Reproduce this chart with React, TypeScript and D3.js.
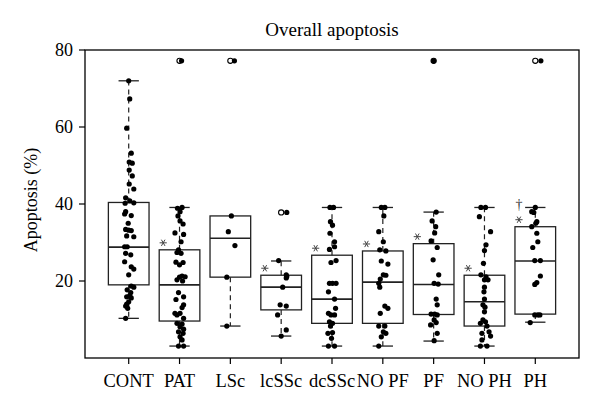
import React from 'react'
import * as d3 from 'd3'

const categories = ['CONT', 'PAT', 'LSc', 'lcSSc', 'dcSSc', 'NO PF', 'PF', 'NO PH', 'PH']
const whiskerLow = [10.3, 3.1, 8.3, 5.7, 3.1, 3.1, 4.4, 3.1, 9.3]
const lowerQuartile = [19.0, 9.6, 21.0, 12.5, 9.0, 9.0, 11.3, 8.3, 11.4]
const medians = [28.8, 19.0, 31.1, 18.4, 15.3, 19.7, 19.1, 14.6, 25.2]
const upperQuartile = [40.4, 28.1, 36.9, 21.5, 26.7, 27.8, 29.7, 21.5, 34.1]
const whiskerHigh = [72.0, 39.1, 36.9, 25.2, 39.1, 39.1, 37.9, 39.1, 39.1]
const outliers = [[], [77.2], [77.2], [37.8], [], [], [77.2], [], [77.2]]
const starred = [false, true, false, true, true, true, true, true, true]
const daggered = [false, false, false, false, false, false, false, false, true]
const yTicks = [20, 40, 60, 80]

// [value, jitter in category units]
const contPoints = [
  [72.0, 0], [67.3, 0.02], [59.7, -0.04], [53.2, 0.05], [50.9, 0.01], [50.6, 0.07],
  [48.8, 0.01], [47.3, 0.07], [45.2, 0.01], [43.9, 0.1], [41.6, -0.06], [40.8, 0.02],
  [40.3, 0.1], [40.2, -0.07], [38.0, -0.06], [37.4, -0.08], [37.0, 0.05], [35.0, -0.01],
  [33.4, -0.06], [33.2, 0], [33.1, 0.05], [31.7, -0.04], [31.5, 0.1], [28.9, -0.08],
  [28.9, -0.03], [27.2, -0.06], [26.8, 0.04], [25.0, -0.08], [23.7, 0.05], [23.1, 0.1],
  [21.6, 0], [18.7, 0.05], [18.4, 0.1], [17.7, -0.03], [17.0, 0.04], [16.2, 0.02],
  [15.9, -0.04], [15.6, 0.05], [14.6, 0], [14.0, -0.04], [13.5, -0.06], [12.9, -0.02],
  [10.3, -0.06],
]
const patPoints = [
  [77.2, 0.04], [38.9, -0.04], [39.1, 0.05], [38.0, 0.01], [36.9, -0.03], [35.6, 0.01],
  [34.8, 0.07], [32.5, -0.09], [32.1, 0.08], [30.2, 0.03], [28.1, -0.02], [27.4, -0.05],
  [27.2, 0.03], [24.9, -0.07], [24.8, 0.07], [24.2, 0], [21.3, 0.05], [21.0, 0],
  [21.1, 0.11], [20.3, -0.05], [20.0, 0.06], [17.0, -0.02], [15.2, -0.07], [15.9, 0.08],
  [13.8, 0.08], [13.1, 0.05], [11.6, -0.09], [11.6, 0.01], [11.2, -0.05], [10.3, 0.08],
  [9.0, -0.05], [8.8, 0.05], [8.1, 0.01], [7.5, 0.08], [6.8, -0.02], [6.4, 0.07],
  [5.5, 0.01], [4.7, 0.05], [3.1, -0.02], [3.1, 0.08],
]
const lscPoints = [[77.2, 0.08], [36.9, 0.02], [32.8, -0.04], [29.2, 0.09], [21.0, -0.07], [8.3, -0.07]]
const lcsscPoints = [
  [37.8, 0.11], [25.3, -0.05], [21.6, 0.1], [21.2, 0.11], [20.8, 0.1], [18.4, 0.03],
  [13.8, -0.02], [13.5, 0.1], [11.2, -0.07], [7.3, 0.1], [5.7, 0],
]
const dcsscPoints = [
  [39.1, -0.04], [39.1, 0.03], [35.4, -0.03], [34.5, 0.01], [32.4, -0.04], [30.2, 0.05],
  [28.9, 0.05], [28.2, -0.05], [25.3, 0.08], [24.8, -0.02], [19.4, -0.05], [19.4, 0.01],
  [19.4, 0.08], [17.2, -0.07], [15.3, 0.05], [12.9, 0.07], [11.6, -0.07], [11.2, -0.02],
  [11.2, 0.05], [9.4, -0.05], [9.0, 0.01], [8.3, -0.03], [6.4, -0.08], [6.6, 0.01],
  [5.1, -0.01], [3.1, -0.07], [3.1, 0.05],
]
const nopfPoints = [
  [39.1, -0.03], [39.1, 0.04], [36.9, 0.02], [32.8, -0.08], [30.2, 0.01], [28.1, -0.06],
  [27.8, 0.06], [25.2, -0.03], [24.4, 0.1], [21.6, 0.01], [21.5, 0.06], [20.5, -0.05],
  [19.4, -0.08], [18.4, -0.06], [13.5, 0.04], [12.9, 0.1], [11.6, -0.05], [8.3, -0.08],
  [8.3, 0.04], [6.8, 0.01], [6.4, 0.06], [5.5, -0.03], [3.1, -0.08],
]
const pfPoints = [
  [77.2, 0], [37.9, 0.05], [35.6, -0.03], [34.1, 0.04], [32.5, 0.02], [30.4, -0.05],
  [28.7, 0.07], [25.5, -0.01], [21.6, 0.1], [19.4, 0.01], [19.2, 0.09], [15.3, 0.05],
  [13.8, 0.07], [11.4, -0.05], [11.4, 0.02], [11.2, 0.07], [9.9, 0.01], [8.6, -0.06],
  [9.2, 0.05], [6.4, 0.07], [4.5, 0.01],
]
const nophPoints = [
  [39.1, -0.07], [39.1, 0.02], [36.7, -0.1], [32.8, 0.12], [29.4, 0.03], [27.9, 0],
  [24.6, -0.02], [21.6, -0.07], [21.1, 0.03], [20.3, 0], [20.3, 0.07], [18.4, 0],
  [17.2, -0.01], [15.3, 0], [13.8, -0.03], [13.2, 0.01], [12.0, 0], [9.9, -0.03],
  [9.4, 0.02], [9.0, -0.08], [8.3, 0.05], [6.4, -0.05], [6.8, 0.09], [5.7, 0.12],
  [4.7, -0.05], [3.1, -0.08], [3.1, 0.05],
]
const phPoints = [
  [77.2, 0.11], [39.1, 0], [38.0, -0.07], [37.8, -0.03], [35.4, 0.03], [35.0, 0.01],
  [34.1, -0.07], [32.4, 0.03], [30.2, 0.05], [28.7, -0.05], [25.3, -0.01], [25.3, 0.1],
  [21.3, 0.1], [19.6, 0.03], [19.1, -0.01], [11.2, -0.01], [11.2, 0.05], [11.2, 0.09],
  [9.2, -0.1],
]
const groupPoints = [contPoints, patPoints, lscPoints, lcsscPoints, dcsscPoints, nopfPoints, pfPoints, nophPoints, phPoints]

const W = 600
const H = 413
const left = 85
const right = 579
const top = 50
const bottom = 358
const font = '"Liberation Serif", "DejaVu Serif", serif'

export default function App() {
  const x = d3.scaleLinear().domain([0.14, categories.length + 0.86]).range([left, right])
  const y = d3.scaleLinear().domain([0, 80]).range([bottom, top])
  const boxHalf = x(1.4) - x(1)
  const stapleHalf = boxHalf / 2
  const star = d3.symbol(d3.symbolAsterisk, 36)()

  return (
    <div style={{ position: 'absolute', left: 0, top: 0 }}>
      <svg width={W} height={H} style={{ display: 'block', background: '#fff' }}>
        <text x={(left + right) / 2} y={36} textAnchor="middle" fontFamily={font} fontSize={19}>
          Overall apoptosis
        </text>

        {categories.map((c, i) => {
          const cx = x(i + 1)
          const stroke = '#222'
          return (
            <g key={c}>
              {whiskerHigh[i] > upperQuartile[i] && (
                <>
                  <line x1={cx} x2={cx} y1={y(upperQuartile[i])} y2={y(whiskerHigh[i])} stroke={stroke} strokeWidth={1.2} strokeDasharray="5,4" />
                  <line x1={cx - stapleHalf} x2={cx + stapleHalf} y1={y(whiskerHigh[i])} y2={y(whiskerHigh[i])} stroke={stroke} strokeWidth={1.3} />
                </>
              )}
              <line x1={cx} x2={cx} y1={y(lowerQuartile[i])} y2={y(whiskerLow[i])} stroke={stroke} strokeWidth={1.2} strokeDasharray="5,4" />
              <line x1={cx - stapleHalf} x2={cx + stapleHalf} y1={y(whiskerLow[i])} y2={y(whiskerLow[i])} stroke={stroke} strokeWidth={1.3} />
              <rect x={cx - boxHalf} width={boxHalf * 2} y={y(upperQuartile[i])} height={y(lowerQuartile[i]) - y(upperQuartile[i])} fill="none" stroke={stroke} strokeWidth={1.3} />
              <line x1={cx - boxHalf} x2={cx + boxHalf} y1={y(medians[i])} y2={y(medians[i])} stroke={stroke} strokeWidth={1.6} />
              {outliers[i].map((v, k) => (
                <circle key={k} cx={cx} cy={y(v)} r={2.6} fill="none" stroke="#000" strokeWidth={1.1} />
              ))}
              {groupPoints[i].map(([v, j], k) => (
                <circle key={'p' + k} cx={x(i + 1 + j)} cy={y(v)} r={2.6} fill="#000" />
              ))}
              {starred[i] && (
                <path d={star} transform={`translate(${cx - boxHalf + 4},${y(upperQuartile[i]) - 7}) rotate(90)`} fill="none" stroke="#444" strokeWidth={1} />
              )}
              {daggered[i] && (
                <text x={cx - boxHalf + 4} y={y(upperQuartile[i]) - 18} textAnchor="middle" fontFamily={font} fontSize={14} fill="#333" opacity={0.99}>†</text>
              )}
              <line x1={cx} x2={cx} y1={bottom} y2={bottom + 6} stroke="#000" strokeWidth={1.2} />
              <text x={cx} y={387} textAnchor="middle" fontFamily={font} fontSize={18.5}>{c}</text>
            </g>
          )
        })}

        {yTicks.map((t) => (
          <g key={t}>
            <line x1={left - 6} x2={left} y1={y(t)} y2={y(t)} stroke="#000" strokeWidth={1.2} />
            <text x={73} y={y(t)} dy="0.33em" textAnchor="end" fontFamily={font} fontSize={18}>{t}</text>
          </g>
        ))}

        <text transform={`translate(37,${(top + bottom) / 2 - 4}) rotate(-90)`} textAnchor="middle" fontFamily={font} fontSize={18}>
          Apoptosis (%)
        </text>

        <rect x={left} y={top} width={right - left} height={bottom - top} fill="none" stroke="#000" strokeWidth={1.3} />
      </svg>
    </div>
  )
}
